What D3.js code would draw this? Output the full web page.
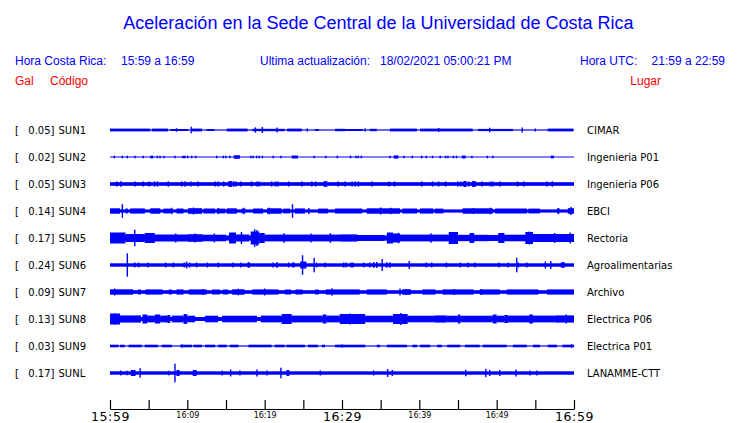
<!DOCTYPE html>
<html><head><meta charset="utf-8">
<script src="https://cdn.jsdelivr.net/npm/d3@7/dist/d3.min.js"></script>
<style>
html,body{margin:0;padding:0;background:#fff;}
svg{display:block;}
</style></head>
<body>
<svg id="chart" width="740" height="423"></svg>
<script>
// ---------- DATA ----------
const stationCodes = ["SUN1","SUN2","SUN3","SUN4","SUN5","SUN6","SUN7","SUN8","SUN9","SUNL"];
const stationPlaces = ["CIMAR","Ingenieria P01","Ingenieria P06","EBCI","Rectoria","Agroalimentarias","Archivo","Electrica P06","Electrica P01","LANAMME-CTT"];
const peakGal = ["0.05","0.02","0.05","0.14","0.17","0.24","0.09","0.13","0.03","0.17"];
const tickMinutes = [0,5,10,15,20,25,30,35,40,45,50,55,60];
const tickLabels = {0:"15:59",10:"16:09",20:"16:19",30:"16:29",40:"16:39",50:"16:49",60:"16:59"};
const majorLabels = [0,30,60];

// base half-amplitude of each trace (relative units)
const baseAmp = [0.6,0.5,1.8,1.6,2.6,1.7,1.8,2.0,0.6,1.7];

// dense stretches: [startMinute, endMinute, halfAmplitude]
const denseSUN1 = [[0,5.2,1.4],[5.4,7.5,1.4],[7.8,10.1,1.0],[10.6,11.9,1.4],[12.5,13.5,1.0],[15.1,17.8,1.4],[18.4,22.6,1.2],[22.9,24.8,1.4],[26.5,27.0,1.0],[29.1,30.4,1.2],[30.4,32.7,1.0],[33.6,34.5,1.2],[36.2,39.7,1.4],[40.1,46.9,1.4],[47.6,52.1,1.1],[56.6,59.9,1.4]];
const denseSUN2 = [[5.2,5.6,1.4],[9.3,9.8,1.2],[16.0,16.8,1.8],[23.5,24.3,1.5],[36.7,37.3,1.6],[45.5,46.0,1.5],[57.0,57.4,1.4]];
const denseSUN3 = [[15.3,15.8,2.9],[27.6,28.1,2.8],[45.7,46.1,3.0],[46.8,47.3,2.9]];
const denseSUN4 = [[0,1.3,2.7],[2.0,2.3,2.5],[2.6,4.5,2.6],[5.2,6.5,2.7],[6.9,8.0,2.4],[8.6,9.5,2.5],[10.1,11.9,2.8],[12.1,13.6,2.5],[13.8,14.9,2.4],[15.1,16.4,2.7],[17.0,17.5,2.4],[18.5,19.8,2.5],[20.3,22.2,2.7],[22.4,23.3,2.4],[23.9,25.2,2.6],[26.9,28.2,2.4],[29.1,32.6,2.5],[33.2,37.5,2.7],[37.8,39.7,2.5],[40.1,41.8,2.6],[42.0,43.1,2.4],[45.6,49.5,2.7],[49.8,53.9,2.5],[54.1,55.6,2.4],[57.8,58.1,2.5],[59.2,60,2.8]];
const denseSUN5 = [[0,2.0,5.5],[2.0,4.5,4.0],[4.5,5.8,5.0],[5.8,10,3.5],[10,12,3.8],[12,15,3.3],[15.4,16.3,5.5],[16.3,18,3.5],[18.2,19.3,6.5],[19.3,20,5.0],[20,29.7,3.4],[29.7,32,3.6],[32,35.5,3.0],[35.8,36.6,5.5],[36.6,37.5,4.5],[37.5,43.8,3.4],[43.8,45.0,6.0],[45.0,49,3.2],[46.5,47.1,5.0],[49,50.2,3.0],[50.2,51.0,5.0],[51,53.7,3.3],[53.7,54.7,6.0],[54.7,60,4.0]];
const denseSUN6 = [[24.6,25.4,3.5],[31.1,31.5,2.5],[58.3,58.8,2.8],[17.8,18.1,2.6]];
const denseSUN7 = [[0,3.0,2.7],[3.6,4.0,2.5],[4.6,6.8,2.6],[7.6,8.0,2.5],[8.6,9.5,2.6],[10.2,12.5,2.6],[13.2,14.2,2.5],[14.6,15.3,2.5],[15.8,17.4,2.7],[18.4,21.8,2.6],[22.6,23.4,2.5],[24.0,24.9,2.5],[26.5,27.0,2.5],[27.9,32.3,2.6],[33.2,35.8,2.6],[37.8,38.9,2.8],[40.4,42.1,2.6],[43.0,47.0,2.6],[47.8,50.4,2.6],[51.3,55.4,2.6],[56.5,60,2.6]];
const denseSUN8 = [[0,1.3,5.5],[1.3,4.0,3.6],[4.2,4.8,4.5],[4.8,5.8,3.4],[5.8,6.5,4.5],[6.5,7.4,3.4],[7.4,7.8,4.0],[8.0,9.5,3.4],[9.5,10.0,4.8],[10.0,11.0,3.3],[12.3,14.0,3.3],[14.5,19,3.3],[19.5,22.2,3.4],[22.2,23.5,5.0],[23.5,27.5,3.4],[27.5,28,4.5],[28,29.7,3.4],[29.7,33,5.0],[33,36.6,3.3],[36.6,38.5,5.0],[38.5,42,3.3],[42,43.5,3.6],[43.5,45,3.3],[45,45.3,4.5],[45.3,49.5,3.3],[49.5,50,4.5],[50,51,3.3],[51,51.5,4.0],[51.5,54.2,3.4],[54.2,54.7,4.5],[54.7,57.5,3.4],[57.5,60,3.6]];
const denseSUN9 = [[0,1.1,1.3],[1.3,1.9,1.3],[2.4,4.1,1.3],[4.5,6.2,1.3],[6.7,8.0,1.3],[9.1,10.6,1.3],[10.8,11.9,1.3],[12.3,13.6,1.3],[14.0,15.1,1.3],[15.5,16.6,1.3],[17.9,20.9,1.3],[21.3,22.6,1.3],[22.8,25.2,1.3],[25.6,26.9,1.3],[27.4,27.8,1.3],[29.1,33.0,1.3],[34.5,34.9,1.3],[35.8,38.4,1.3],[39.1,39.7,1.3],[40.1,41.4,1.3],[42.3,42.9,1.3],[43.6,45.3,1.3],[45.9,47.8,1.3],[48.2,51.3,1.3],[52.1,53.9,1.3],[54.7,55.6,1.3],[56.6,57.8,1.3],[58.5,60,1.3]];
const denseSUNL = [[2.7,3.3,3.0],[8.6,9.0,3.0],[10.7,11.2,3.0],[22.8,23.2,2.8]];

// individual peaks: [minute, halfAmplitude]
const spikesSUN1 = [[10.5,3.3],[18.8,2.6],[19.7,3.0],[21.6,2.5],[42.5,2.0],[49.1,2.3],[53.3,2.5],[8.6,1.8],[25.5,1.6],[33.0,1.6],[55.0,1.5]];
const spikesSUN2 = [[0.56,1.3],[1.59,1.3],[2.24,1.3],[3.23,1.3],[4.3,1.3],[6.12,1.3],[6.47,1.3],[6.98,1.3],[8.4,1.3],[10.05,1.3],[10.56,1.3],[11.08,1.3],[13.8,1.3],[14.65,1.3],[14.96,1.3],[15.5,1.3],[18.2,1.3],[18.5,1.3],[18.97,1.3],[19.3,1.3],[19.7,1.3],[21.1,1.3],[22.1,1.3],[26.4,1.3],[27.9,1.3],[29.4,1.3],[31.1,1.3],[31.8,1.3],[32.1,1.3],[32.5,1.3],[36.2,1.3],[38.0,1.3],[39.1,1.3],[40.3,1.3],[40.9,1.3],[41.7,1.3],[42.7,1.3],[43.4,1.3],[43.7,1.3],[44.4,1.3],[44.8,1.3],[46.8,1.3],[48.8,1.3],[49.5,1.3]];
const spikesSUN3 = [[0.87,2.6],[1.42,2.8],[3.23,2.6],[4.3,2.6],[5.08,2.6],[5.73,2.6],[6.12,2.6],[7.54,2.8],[9.27,2.6],[9.7,2.8],[10.47,2.6],[11.4,2.6],[13.6,2.6],[14.0,2.6],[14.7,2.6],[16.0,2.8],[16.3,2.6],[16.9,2.6],[18.3,2.6],[19.0,2.6],[19.3,2.6],[20.9,2.6],[21.4,2.6],[21.7,2.6],[23.1,2.6],[24.8,2.6],[26.1,2.6],[26.6,2.6],[29.5,2.6],[30.4,2.6],[31.3,2.6],[31.7,2.6],[32.1,2.6],[33.9,2.6],[36.1,2.6],[36.8,2.6],[40.3,2.6],[41.7,2.6],[42.5,2.6],[43.4,2.6],[45.0,2.6],[45.4,2.6],[46.4,2.6],[48.1,2.6],[49.2,2.6],[49.5,2.6],[50.4,2.6],[52.7,2.6],[53.5,2.6],[56.5,2.6],[57.2,2.8]];
const spikesSUN4 = [[1.6,6.8],[23.6,6.8],[8.0,3.2],[10.8,3.5],[14.0,3.0],[17.3,3.2],[20.6,3.3],[25.7,3.0],[35.0,3.5],[36.3,3.2],[47.0,3.0],[49.2,3.3],[58.0,3.0],[59.6,4.0]];
const spikesSUN5 = [[3.2,8.3],[18.7,8.8],[19.0,8.0],[17.0,6.0],[5.0,5.0],[8.5,4.5],[11.0,4.5],[13.5,4.5],[22.5,4.8],[26,4.5],[28.5,4.8],[37.3,5.2],[41.5,4.8],[54.2,6.5],[57.5,5],[59.5,5.5]];
const spikesSUN6 = [[2.24,11.7],[24.9,9.8],[26.4,7.3],[35.2,6.0],[52.6,7.3],[38.7,4.0],[57.0,4.0],[56.3,3.5],[3.2,2.5],[3.7,2.5],[4.9,2.5],[7.2,2.5],[8.2,2.5],[9.6,2.5],[9.9,3.5],[10.3,2.5],[11.2,2.5],[12.6,2.5],[14.0,2.5],[15.9,2.5],[16.9,2.5],[17.9,2.5],[21.1,2.5],[21.6,3.0],[23.1,2.5],[23.6,2.5],[23.8,2.5],[26.7,2.5],[27.8,2.5],[30.2,2.5],[30.5,2.5],[32.8,2.5],[33.6,2.5],[34.1,3.0],[34.5,3.0],[35.8,2.8],[36.2,2.8],[40.9,2.5],[41.6,2.5],[43.5,2.5],[45.3,2.5],[46.3,2.5],[47.2,2.5],[50.3,2.5],[51.5,2.5],[52.8,2.5],[53.9,2.5]];
const spikesSUN7 = [[0.6,3.5],[12.0,3.0],[16.6,3.3],[20.0,3.5],[28.7,3.7],[37.5,3.5],[38.3,3.0],[44.5,3.0],[48,3.0]];
const spikesSUN8 = [[0.6,5.8],[9.7,5.0],[31,5.5],[37.6,6.0],[59.0,4.5]];
const spikesSUN9 = [[9.3,1.6],[30,1.6],[59.7,1.8]];
const spikesSUNL = [[1.4,2.5],[2.2,2.3],[3.0,3.0],[3.9,4.7],[7.6,2.3],[8.4,9.3],[8.8,3.0],[10.9,3.0],[14.5,2.5],[15.6,3.5],[16.8,2.5],[19.0,3.5],[20.3,2.5],[22.1,5.3],[23.0,3.0],[27.2,2.5],[34.1,2.5],[35.9,4.0],[36.5,3.0],[46.0,3.3],[48.6,4.2],[49.1,3.0],[50.4,3.0],[52.5,3.5],[54.3,2.5],[55.2,2.5]];

const denseByStation = [denseSUN1,denseSUN2,denseSUN3,denseSUN4,denseSUN5,denseSUN6,denseSUN7,denseSUN8,denseSUN9,denseSUNL];
const spikesByStation = [spikesSUN1,spikesSUN2,spikesSUN3,spikesSUN4,spikesSUN5,spikesSUN6,spikesSUN7,spikesSUN8,spikesSUN9,spikesSUNL];

// ---------- DRAW ----------
const svg = d3.select("#chart");
const BLUE = "#0000ff", RED = "#ff0000";
const sans = "'Liberation Sans', Arial, sans-serif";
const dv = "'DejaVu Sans', sans-serif";

const x = d3.scaleLinear().domain([0,60]).range([110,574]);
const y = d3.scalePoint().domain(stationCodes).range([130,373]);
const amp = d3.scaleLinear().domain([0,1]).range([0,1]);

// title & header
svg.append("text").attr("x",378.5).attr("y",29).attr("text-anchor","middle")
  .attr("font-family",sans).attr("font-size",18).attr("fill",BLUE)
  .text("Aceleración en la Sede Central de la Universidad de Costa Rica");
const hdr = [
  [15,"start","Hora Costa Rica:"],[121,"start","15:59 a 16:59"],
  [260,"start","Ultima actualización:"],[380,"start","18/02/2021 05:00:21 PM"],
  [580,"start","Hora UTC:"],[725,"end","21:59 a 22:59"]];
hdr.forEach(h => svg.append("text").attr("x",h[0]).attr("y",65).attr("text-anchor",h[1])
  .attr("font-family",sans).attr("font-size",12).attr("fill",BLUE).text(h[2]));
svg.append("text").attr("x",15).attr("y",85).attr("font-family",sans).attr("font-size",12).attr("fill",RED).text("Gal");
svg.append("text").attr("x",50).attr("y",85).attr("font-family",sans).attr("font-size",12).attr("fill",RED).text("Código");
svg.append("text").attr("x",661).attr("y",85).attr("text-anchor","end").attr("font-family",sans).attr("font-size",12).attr("fill",RED).text("Lugar");

// rows
stationCodes.forEach((code,i) => {
  const cy = y(code);
  const g = svg.append("g");
  g.append("text").attr("x",15).attr("y",cy+3.8).attr("font-family",dv).attr("font-size",10).text("[");
  g.append("text").attr("x",54.5).attr("y",cy+3.8).attr("text-anchor","end").attr("font-family",dv).attr("font-size",10).text(peakGal[i]+"]");
  g.append("text").attr("x",58.5).attr("y",cy+3.8).attr("font-family",dv).attr("font-size",10).text(code);
  g.append("text").attr("x",587).attr("y",cy+3.8).attr("font-family",dv).attr("font-size",10).text(stationPlaces[i]);
  g.append("rect").attr("x",x(0)).attr("width",x(60)-x(0))
    .attr("y",cy-amp(baseAmp[i])).attr("height",2*amp(baseAmp[i])).attr("fill",BLUE);
  g.selectAll("rect.d").data(denseByStation[i]).enter().append("rect").attr("class","d")
    .attr("x",d=>x(d[0])).attr("width",d=>Math.max(1,x(d[1])-x(d[0])))
    .attr("y",d=>cy-amp(d[2])).attr("height",d=>2*amp(d[2])).attr("fill",BLUE);
  g.selectAll("rect.s").data(spikesByStation[i]).enter().append("rect").attr("class","s")
    .attr("x",d=>x(d[0])-0.7).attr("width",1.4)
    .attr("y",d=>cy-amp(d[1])).attr("height",d=>2*amp(d[1])).attr("fill",BLUE);
});

// time axis
const axis = d3.axisBottom(x).tickValues(tickMinutes).tickSizeInner(-9).tickSizeOuter(0)
  .tickFormat(d => tickLabels[d] || "");
const ax = svg.append("g").attr("transform","translate(0,409)").call(axis);
ax.select(".domain").attr("stroke","#000").attr("stroke-width",1.2);
ax.selectAll(".tick line").attr("stroke","#000").attr("stroke-width",1.2);
ax.selectAll(".tick text").attr("fill","#000").attr("font-family",dv)
  .attr("font-size",d => majorLabels.includes(d) ? 12.5 : 8)
  .attr("dy",null)
  .attr("y",d => majorLabels.includes(d) ? 12 : 9)
  .attr("letter-spacing",d => majorLabels.includes(d) ? 0.6 : 0);
</script>
</body></html>
